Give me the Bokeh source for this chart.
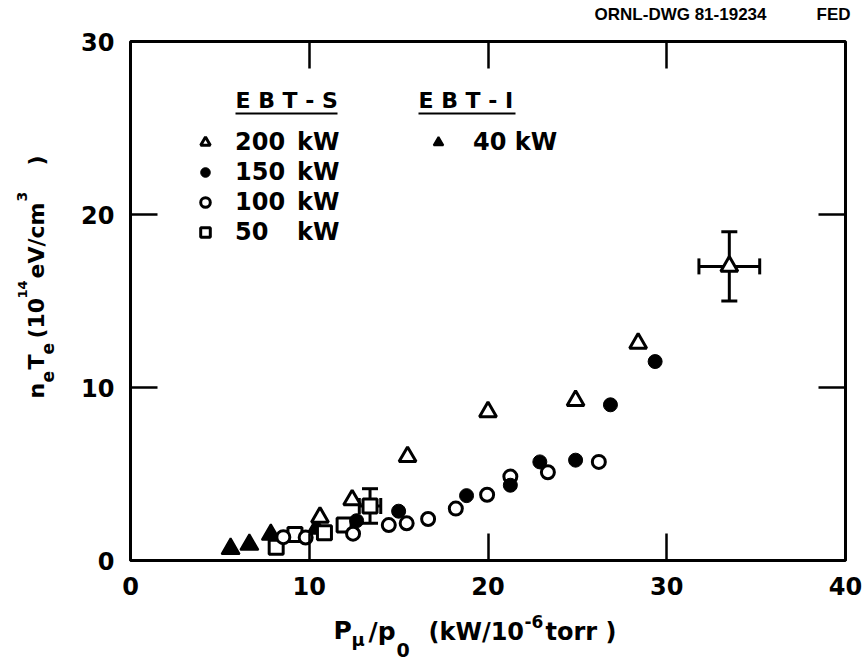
import math
from bokeh.plotting import figure
from bokeh.layouts import column, row
from bokeh.models import (LinearAxis, FixedTicker, Legend, LegendItem, Label,
                          BoxAnnotation, Whisker, ColumnDataSource, TeeHead, Range1d)
from bokeh.core.properties import value
from bokeh.embed import file_html
from bokeh.resources import INLINE

# ---------------- data ----------------
x_200 = [10.6, 12.4, 15.5, 20.0, 24.9, 28.4, 33.5]
y_200 = [2.5, 3.5, 6.0, 8.6, 9.25, 12.55, 17.0]
x_150 = [12.65, 15.0, 18.8, 21.25, 22.9, 24.9, 26.85, 29.35]
y_150 = [2.3, 2.85, 3.75, 4.35, 5.7, 5.8, 9.0, 11.5]
x_100 = [8.55, 9.8, 12.45, 14.45, 15.45, 16.65, 18.2, 19.95, 21.25, 23.35, 26.2]
y_100 = [1.35, 1.33, 1.55, 2.05, 2.15, 2.4, 3.0, 3.8, 4.85, 5.1, 5.7]
x_50 = [8.15, 9.2, 10.85, 11.95, 13.4]
y_50 = [0.77, 1.5, 1.6, 2.05, 3.15]
x_40 = [5.6, 6.65, 7.85, 10.4]
y_40 = [0.68, 0.92, 1.5, 1.85]
err_x = [13.4, 33.5]
err_y = [3.15, 17.0]
err_dx = [0.6, 1.7]
err_dy = [1.0, 2.0]
x_ticks = [0, 10, 20, 30, 40]
y_ticks = [0, 10, 20, 30]
x_inner_ticks = [10, 20, 30]
y_inner_ticks = [10, 20]
labels_s = ["200\u2002kW", "150\u2002kW", "100\u2002kW", "50\u2007\u2002kW"]
labels_i = ["40 kW"]

FONT = "DejaVu Sans"

# overall geometry (pixels)
W, H = 868, 664
TOP_H, BOT_H, LEFT_W = 28, 54, 70
MAIN_W, MAIN_H = W - LEFT_W, H - TOP_H - BOT_H
FL, FR, FT, FB = 130, 845, 41, 560          # frame edges in page pixels
BORDER_T = FT - TOP_H
BORDER_B = (TOP_H + MAIN_H) - FB


def strip(w, h, xr, yr, bt=0, bb=0):
    f = figure(width=w, height=h, x_range=Range1d(*xr), y_range=Range1d(*yr),
               output_backend="svg", toolbar_location=None, title=None,
               x_axis_location=None, y_axis_location=None, min_border=0,
               min_border_left=0, min_border_right=0, min_border_top=bt, min_border_bottom=bb)
    f.grid.visible = False
    f.outline_line_color = None
    f.background_fill_color = "white"
    f.border_fill_color = "white"
    return f


p = figure(width=MAIN_W, height=MAIN_H, x_range=Range1d(0, 40), y_range=Range1d(0, 30),
           output_backend="svg", toolbar_location=None, title=None,
           x_axis_location=None, y_axis_location=None,
           min_border_left=FL - LEFT_W, min_border_right=W - FR,
           min_border_top=BORDER_T, min_border_bottom=BORDER_B)
p.grid.visible = False
p.outline_line_color = "black"
p.outline_line_width = 3
p.background_fill_color = "white"
p.border_fill_color = "white"


def style_axis(ax, show_labels):
    ax.axis_line_color = None
    ax.major_tick_in = 27
    ax.major_tick_out = 0
    ax.major_tick_line_width = 2.5
    ax.major_tick_line_color = "black"
    ax.minor_tick_line_color = None
    ax.major_label_text_font = FONT
    ax.major_label_text_font_style = "bold"
    if show_labels:
        ax.major_label_text_font_size = "24px"
        ax.major_label_text_color = "black"
    else:
        ax.major_label_text_font_size = "8px"
        ax.major_label_text_color = None
        ax.major_label_standoff = 0


xb = LinearAxis(ticker=FixedTicker(ticks=x_ticks))
style_axis(xb, True)
xb.major_label_standoff = 16
p.add_layout(xb, "below")
yl = LinearAxis(ticker=FixedTicker(ticks=y_ticks))
style_axis(yl, True)
yl.major_label_standoff = 16
p.add_layout(yl, "left")
xt = LinearAxis(ticker=FixedTicker(ticks=x_inner_ticks))
style_axis(xt, False)
p.add_layout(xt, "above")
yr = LinearAxis(ticker=FixedTicker(ticks=y_inner_ticks))
style_axis(yr, False)
p.add_layout(yr, "right")

# error bars
esrc = ColumnDataSource(dict(
    x=err_x, y=err_y,
    yl=[a - b for a, b in zip(err_y, err_dy)], yu=[a + b for a, b in zip(err_y, err_dy)],
    xl=[a - b for a, b in zip(err_x, err_dx)], xu=[a + b for a, b in zip(err_x, err_dx)],
))
for base, lo, hi, dim in (("x", "yl", "yu", "height"), ("y", "xl", "xu", "width")):
    p.add_layout(Whisker(source=esrc, base=base, lower=lo, upper=hi, dimension=dim,
                         line_width=3, line_color="black", level="underlay",
                         lower_head=TeeHead(size=16, line_width=3),
                         upper_head=TeeHead(size=16, line_width=3)))

# data markers
r40 = p.scatter(x_40, y_40, marker="triangle", size=18, fill_color="black", line_color="black", line_width=2)
r50 = p.scatter(x_50, y_50, marker="square", size=14, fill_color="white", line_color="black", line_width=3)
r100 = p.scatter(x_100, y_100, marker="circle", size=13, fill_color="white", line_color="black", line_width=3)
r150 = p.scatter(x_150, y_150, marker="circle", size=14, fill_color="black", line_color="black", line_width=1)
r200 = p.scatter(x_200, y_200, marker="triangle", size=17, fill_color="white", line_color="black", line_width=3)

leg_common = dict(orientation="vertical", glyph_width=24, glyph_height=28, label_height=28,
                  spacing=2, padding=0, margin=0, border_line_color=None,
                  background_fill_alpha=0, label_text_font=FONT,
                  label_text_font_style="bold", label_text_font_size="24px",
                  label_text_color="black")
leg1 = Legend(items=[LegendItem(label=labels_s[0], renderers=[r200]),
                     LegendItem(label=labels_s[1], renderers=[r150]),
                     LegendItem(label=labels_s[2], renderers=[r100]),
                     LegendItem(label=labels_s[3], renderers=[r50])],
              location=(63, 314), label_standoff=18, **leg_common)
leg2 = Legend(items=[LegendItem(label=labels_i[0], renderers=[r40])],
              location=(296, 404), label_standoff=23, **leg_common)
p.add_layout(leg1)
p.add_layout(leg2)


def dx(px):
    return (px - FL) * 40.0 / (FR - FL)


def dy(py):
    return (FB - py) * 30.0 / (FB - FT)


# legend headers with underlines (inside the frame)
for txt, px in (("E B T - S", 235), ("E B T - I", 418)):
    p.add_layout(Label(x=dx(px), y=dy(100), text=txt, text_font=FONT, text_font_style="bold",
                       text_font_size="22px", text_color="black", text_baseline="middle"))
for l, r in ((235, 337), (418, 515)):
    p.add_layout(BoxAnnotation(left=dx(l), right=dx(r), bottom=dy(114), top=dy(112),
                               fill_color="black", fill_alpha=1, line_color=None))

# ---- top strip: drawing number ----
top = strip(W, TOP_H, (0, W), (TOP_H, 0))
top.text(x=[766, 850], y=[14, 14], text=["ORNL-DWG 81-19234", "FED"],
         text_font=value("Liberation Sans"), text_font_style="bold", text_font_size="17px",
         text_align="right", text_baseline="middle", text_color="black")

# ---- bottom strip: x axis label (pieces, vertically centred on given rows) ----
bot = strip(W, BOT_H, (0, W), (H, H - BOT_H))
xl_parts = [("P", 333, 630, "25px"), ("\u03bc", 351, 639, "18px"), ("/p", 368, 631, "25px"),
            ("0", 396, 649, "19px"), ("(kW/10", 428, 631, "24px"), ("-6", 524, 621, "17px"),
            ("torr )", 545, 631, "24px")]
for t, px, py, sz in xl_parts:
    bot.text(x=[px], y=[py], text=[t], text_font=value(FONT), text_font_style="bold",
             text_font_size=sz, text_align="left", text_baseline="middle", text_color="black")

# ---- left strip: y axis label (rotated, reading upward); frame spans the main frame rows ----
left = strip(LEFT_W, MAIN_H, (0, LEFT_W), (FB, FT), bt=BORDER_T, bb=BORDER_B)
yl_parts = [("n", 36, 398, "22px"), ("e", 47, 382, "17px"), ("T", 36, 369, "22px"),
            ("e", 47, 354, "17px"), ("(10", 36, 338, "22px"), ("14", 22, 298, "13px"),
            ("eV/cm", 36, 278, "22px"), ("3", 21, 201, "14px"), (")", 36, 165, "22px")]
for t, px, py, sz in yl_parts:
    left.text(x=[px], y=[py], text=[t], angle=math.pi / 2, text_font=value(FONT),
              text_font_style="bold", text_font_size=sz, text_align="left",
              text_baseline="middle", text_color="black")

layout = column(top, row(left, p), bot)
open("out.html", "w").write(file_html(layout, INLINE))
